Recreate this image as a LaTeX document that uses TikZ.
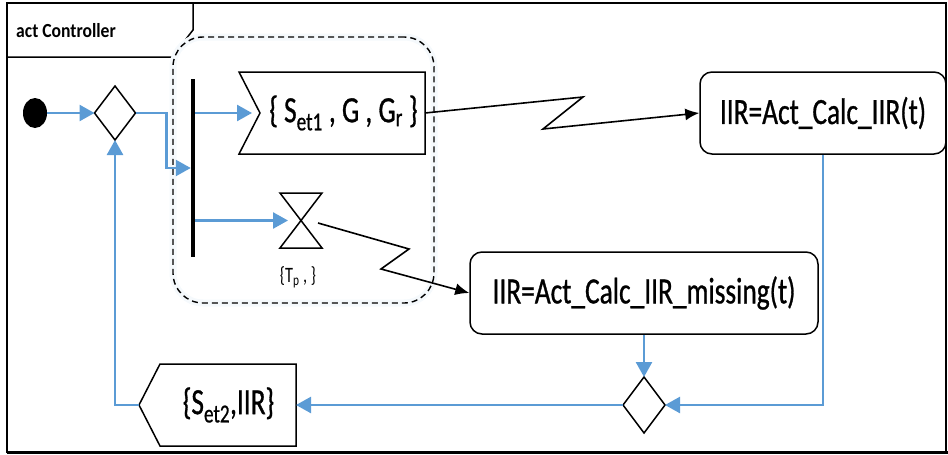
\documentclass[tikz,border=0pt]{standalone}
\usepackage{fontspec}
\setmainfont{Carlito}
\newfontfamily\cfont[FakeStretch=0.74,FakeBold=0.8]{Carlito}
\newfontfamily\sfont[FakeStretch=0.74]{Carlito}
\newfontfamily\tfont[FakeStretch=0.88]{Carlito}
\usetikzlibrary{arrows.meta,calc,shapes.geometric}
\definecolor{ublue}{RGB}{91,155,213}
\begin{document}
\begin{tikzpicture}[x=1pt,y=-1pt,
  bline/.style={draw=ublue, line width=2.5pt},
  barrow/.style={bline,-{Triangle[length=15pt,width=16pt]}},
  karrow/.style={draw=black,line width=1.6pt,-{Latex[length=14pt,width=12pt]}},
  txt/.style={font=\cfont\fontsize{37}{40}\selectfont},
  actbox/.style={txt, draw, rounded corners=12pt, line width=1.5pt, inner sep=0pt},
  shp/.style={line width=1.5pt},
  hidden/.style={inner sep=0pt, outer sep=0pt}
]
\useasboundingbox (0,0) rectangle (948,455);
% frame
\draw[line width=1.8pt] (7,3) rectangle (946,452);
\draw[line width=3pt] (7,452) -- (948,452);
\draw[line width=1.5pt] (7,57) -- (172,57) -- (193,30) -- (193,3);
\node[anchor=west, font=\tfont\bfseries\fontsize{20}{22}\selectfont, inner sep=0pt] (title) at (16,31) {act Controller};
% interruptible region
\node[draw=ublue!6, line width=7pt, rounded corners=30pt, minimum width=261pt, minimum height=266pt, hidden] (glow) at (303.5,170) {};
\node[draw, dashed, dash pattern=on 6pt off 4pt, line width=1.4pt, rounded corners=30pt, minimum width=261pt, minimum height=266pt, hidden] (region) at (303.5,170) {};
% nodes
\node[ellipse, fill=black, minimum width=24pt, minimum height=30pt, hidden] (init) at (35,113) {};
\node[minimum width=41pt, minimum height=54pt, hidden] (d1) at (115,113) {};
\draw[shp] (d1.north) -- (d1.east) -- (d1.south) -- (d1.west) -- cycle;
\node[fill=black, minimum width=4.5pt, minimum height=178pt, hidden] (fork) at (193,168) {};
\node[txt, minimum width=186pt, minimum height=82pt, hidden] (set1) at (332,113) {\hspace*{23pt}\{ S\textsubscript{et1} , G , G\textsubscript{r} \}};
\draw[shp] (set1.north west) -- (set1.north east) -- (set1.south east) -- (set1.south west) -- ($(set1.west)+(21,0)$) -- cycle;
\node[minimum width=42pt, minimum height=55pt, hidden] (hg) at (301,220.5) {};
\draw[shp] (hg.north west) -- (hg.north east) -- (hg.south west) -- (hg.south east) -- cycle;
\node[font=\sfont\fontsize{22}{24}\selectfont, inner sep=0pt] (tp) at (298,277) {\{T\textsubscript{p} , \}};
\node[actbox, minimum width=246pt, minimum height=82pt] (a1) at (823,113) {IIR=Act\_Calc\_IIR(t)};
\node[actbox, minimum width=348pt, minimum height=82pt] (a2) at (644,293) {IIR=Act\_Calc\_IIR\_missing(t)};
\node[minimum width=42pt, minimum height=56pt, hidden] (d2) at (644,405) {};
\draw[shp] (d2.north) -- (d2.east) -- (d2.south) -- (d2.west) -- cycle;
\node[txt, minimum width=157pt, minimum height=82pt, hidden] (set2) at (217.5,405) {\hspace*{22pt}\{S\textsubscript{et2},IIR\}};
\draw[shp] (set2.west) -- ($(set2.north west)+(21,0)$) -- (set2.north east) -- (set2.south east) -- ($(set2.south west)+(21,0)$) -- cycle;
% connectors
\draw[barrow] (init.east) -- (d1.west);
\draw[barrow] (d1.east) -- ++(31,0) |- (fork.west);
\draw[barrow] (fork.east |- set1.west) -- ($(set1.west)+(13,0)$);
\draw[barrow] (fork.east |- hg.west) -- ($(hg.west)+(8,0)$);
\coordinate (z1a) at (583,97);
\coordinate (z1b) at (543,129);
\draw[karrow] (set1.east) -- (z1a) -- (z1b) -- (a1.west);
\coordinate (hgout) at ($(hg.east)+(-4,2.5)$);
\coordinate (z2a) at (409,249);
\coordinate (z2b) at (381,269);
\draw[karrow] (hgout) -- (z2a) -- (z2b) -- (a2.west);
\draw[barrow] (a2.south) -- (d2.north);
\draw[barrow] (a1.south) |- (d2.east);
\draw[barrow] (d2.west) -- (set2.east);
\draw[barrow] (set2.west) -| (d1.south);
\end{tikzpicture}
\end{document}
